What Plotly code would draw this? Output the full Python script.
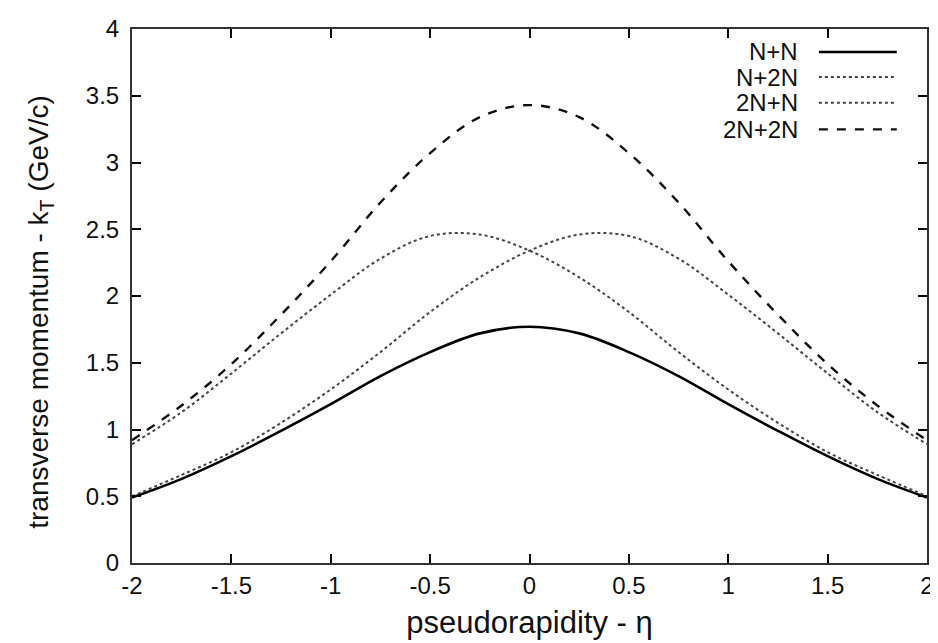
import plotly.graph_objects as go

# pseudorapidity grid (step 0.25)
eta = [-2.0, -1.75, -1.5, -1.25, -1.0, -0.75, -0.5, -0.25, 0.0,
       0.25, 0.5, 0.75, 1.0, 1.25, 1.5, 1.75, 2.0]

kt_nn = [0.49, 0.63, 0.80, 0.99, 1.19, 1.40, 1.58, 1.72, 1.77,
         1.72, 1.58, 1.40, 1.19, 0.99, 0.80, 0.63, 0.49]
kt_n2n = [0.50, 0.66, 0.83, 1.05, 1.30, 1.58, 1.88, 2.14, 2.34,
          2.46, 2.45, 2.28, 2.01, 1.72, 1.42, 1.13, 0.89]
kt_2nn = [0.89, 1.13, 1.42, 1.72, 2.01, 2.28, 2.45, 2.46, 2.34,
          2.14, 1.88, 1.58, 1.30, 1.05, 0.83, 0.66, 0.50]
kt_2n2n = [0.92, 1.18, 1.49, 1.86, 2.26, 2.70, 3.07, 3.34, 3.43,
           3.34, 3.07, 2.70, 2.26, 1.86, 1.49, 1.18, 0.92]

series_names = ["N+N", "N+2N", "2N+N", "2N+2N"]
series_vals = [kt_nn, kt_n2n, kt_2nn, kt_2n2n]
series_dash = ["solid", "dot", "dot", "dash"]
series_width = [2.6, 2.0, 2.0, 2.4]
series_color = ["#000000", "#444444", "#444444", "#111111"]

x_ticks = [-2, -1.5, -1, -0.5, 0, 0.5, 1, 1.5, 2]
x_ticktext = ["-2", "-1.5", "-1", "-0.5", "0", "0.5", "1", "1.5", "2"]
y_ticks = [0, 0.5, 1, 1.5, 2, 2.5, 3, 3.5, 4]
y_ticktext = ["0", "0.5", "1", "1.5", "2", "2.5", "3", "3.5", "4"]

fig = go.Figure()
for name, vals, dash, w, c in zip(series_names, series_vals, series_dash, series_width, series_color):
    fig.add_trace(go.Scatter(x=eta, y=vals, mode="lines", name=name,
                             line=dict(color=c, width=w, dash=dash, shape="spline", smoothing=1.0),
                             showlegend=False))

# gnuplot-style legend: text right aligned, line sample on the right
leg_y = [0.957, 0.910, 0.862, 0.812]
for name, dash, w, c, yy in zip(series_names, series_dash, series_width, series_color, leg_y):
    fig.add_annotation(x=0.840, y=yy, xref="paper", yref="paper", text=name,
                       showarrow=False, xanchor="right", yanchor="middle",
                       font=dict(size=24, color="#111111"))
    fig.add_shape(type="line", xref="paper", yref="paper", x0=0.864, x1=0.962, y0=yy, y1=yy,
                  line=dict(color=c, width=w, dash=dash))

# y title as a rotated annotation so it sits where the original does
fig.add_annotation(x=-0.116, y=0.47, xref="paper", yref="paper",
                   text="transverse momentum - k<sub>T</sub> (GeV/c)", textangle=-90,
                   showarrow=False, xanchor="center", yanchor="middle",
                   font=dict(size=28, color="#111111"))

axis_common = dict(showgrid=False, zeroline=False, showline=True, mirror="ticks",
                   linecolor="#333333", linewidth=2, ticks="inside", ticklen=9,
                   tickcolor="#000000", tickwidth=1.5, automargin=False,
                   tickfont=dict(size=24, color="#111111"))

fig.update_xaxes(range=[-2, 2], tickvals=x_ticks, ticktext=x_ticktext,
                 title=dict(text="pseudorapidity - η", font=dict(size=31, color="#111111"), standoff=14),
                 **axis_common)
fig.update_yaxes(range=[0, 4], tickvals=y_ticks, ticktext=y_ticktext,
                 ticklabelstandoff=6, **axis_common)

fig.update_layout(width=938, height=643, autosize=False,
                  margin=dict(l=124, r=19, t=21, b=88),
                  plot_bgcolor="white", paper_bgcolor="white",
                  font=dict(family="Liberation Sans, Arial, sans-serif"))

fig.write_html("out.html")
